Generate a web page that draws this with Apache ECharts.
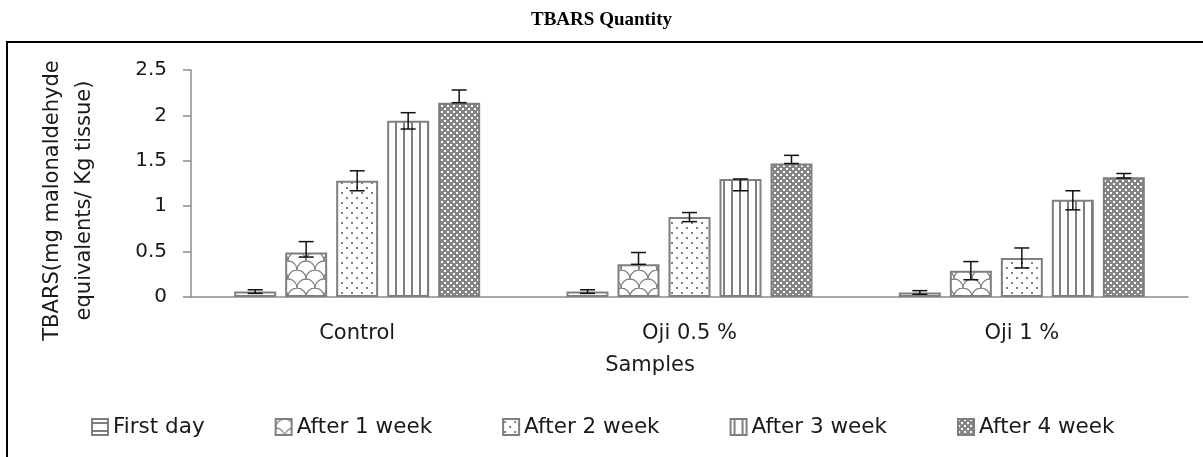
<!DOCTYPE html>
<html>
<head>
<meta charset="utf-8">
<title>TBARS Quantity</title>
<script src="https://cdn.jsdelivr.net/npm/echarts@6/dist/echarts.min.js"></script>
<style>html,body{margin:0;padding:0;background:#fff}#main{width:1203px;height:457px}</style>
</head>
<body>
<div id="main"></div>
<script>
// data
const categories = ['Control', 'Oji 0.5 %', 'Oji 1 %'];
const seriesNames = ['First day', 'After 1 week', 'After 2 week', 'After 3 week', 'After 4 week'];
const yTicks = [0, 0.5, 1, 1.5, 2, 2.5];

const firstDay = [0.06, 0.06, 0.05];
const week1 = [0.49, 0.36, 0.29];
const week2 = [1.28, 0.88, 0.43];
const week3 = [1.94, 1.30, 1.07];
const week4 = [2.14, 1.47, 1.32];

// error bar ends (low / high), one row per series
const errLow = [
  [0.04, 0.04, 0.03],
  [0.44, 0.36, 0.19],
  [1.17, 0.83, 0.32],
  [1.85, 1.17, 0.96],
  [2.14, 1.47, 1.31]
];
const errHigh = [
  [0.08, 0.08, 0.07],
  [0.61, 0.49, 0.39],
  [1.39, 0.93, 0.54],
  [2.03, 1.30, 1.17],
  [2.28, 1.56, 1.36]
];

const values = [firstDay, week1, week2, week3, week4];

const BAR_W = 42, BAR_GAP = 9, CAP_W = 15;
const GREY = '#7f7f7f';
const FONT = 'DejaVu Sans';

function pattern(w, h, draw) {
  const c = document.createElement('canvas');
  c.width = w; c.height = h;
  const ctx = c.getContext('2d');
  ctx.fillStyle = '#fff';
  ctx.fillRect(0, 0, w, h);
  draw(ctx);
  return {image: c, repeat: 'repeat'};
}

const fills = [
  // horizontal line
  pattern(8, 8, function(ctx) { ctx.fillStyle = GREY; ctx.fillRect(0, 3, 8, 2); }),
  // fish scales
  pattern(18, 18, function(ctx) {
    ctx.strokeStyle = GREY; ctx.lineWidth = 1.3;
    ctx.beginPath(); ctx.arc(9, 9, 9, Math.PI, 2 * Math.PI); ctx.stroke();
    ctx.beginPath(); ctx.arc(0, 18, 9, 1.5 * Math.PI, 2 * Math.PI); ctx.stroke();
    ctx.beginPath(); ctx.arc(18, 18, 9, Math.PI, 1.5 * Math.PI); ctx.stroke();
  }),
  // sparse dots
  pattern(10, 10, function(ctx) {
    ctx.fillStyle = GREY;
    ctx.fillRect(1, 2, 2, 2);
    ctx.fillRect(6, 7, 2, 2);
  }),
  // vertical stripes
  pattern(8, 4, function(ctx) { ctx.fillStyle = GREY; ctx.fillRect(3, 0, 2, 4); }),
  // dense check
  pattern(6, 6, function(ctx) {
    ctx.fillStyle = '#858585'; ctx.fillRect(0, 0, 6, 6);
    ctx.fillStyle = '#fff';
    ctx.fillRect(0, 0, 2, 2);
    ctx.fillRect(3, 3, 2, 2);
  })
];

const barSeries = seriesNames.map(function(name, k) {
  return {
    name: name,
    type: 'bar',
    data: values[k],
    barWidth: BAR_W,
    barGap: (BAR_GAP / BAR_W * 100) + '%',
    itemStyle: {color: fills[k], borderColor: GREY, borderWidth: 2},
    emphasis: {disabled: true}
  };
});

const errData = [];
seriesNames.forEach(function(name, k) {
  categories.forEach(function(c, i) {
    errData.push([i, errLow[k][i], errHigh[k][i], k]);
  });
});

const errSeries = {
  name: 'error',
  type: 'custom',
  z: 10,
  data: errData,
  encode: {x: 0, y: [1, 2]},
  renderItem: function(params, api) {
    const k = api.value(3);
    const x = api.coord([api.value(0), 0])[0] + (k - 2) * (BAR_W + BAR_GAP);
    const lo = api.coord([api.value(0), api.value(1)])[1];
    const hi = api.coord([api.value(0), api.value(2)])[1];
    const st = {stroke: '#111', lineWidth: 1.5};
    const h = CAP_W / 2;
    return {type: 'group', children: [
      {type: 'line', shape: {x1: x, y1: lo, x2: x, y2: hi}, style: st},
      {type: 'line', shape: {x1: x - h, y1: hi, x2: x + h, y2: hi}, style: st},
      {type: 'line', shape: {x1: x - h, y1: lo, x2: x + h, y2: lo}, style: st}
    ]};
  }
};

const chart = echarts.init(document.getElementById('main'));
chart.setOption({
  animation: false,
  backgroundColor: '#fff',
  title: {
    text: 'TBARS Quantity',
    left: 'center',
    top: 6,
    textStyle: {fontFamily: 'Liberation Serif', fontWeight: 'bold', fontSize: 19, color: '#000'}
  },
  graphic: [{
    type: 'rect',
    shape: {x: 7, y: 42, width: 1250, height: 500},
    style: {fill: 'none', stroke: '#000', lineWidth: 2},
    silent: true
  }],
  legend: {
    data: seriesNames,
    left: 91,
    top: 416,
    padding: 0,
    itemGap: 70,
    itemWidth: 16,
    itemHeight: 16,
    icon: 'rect',
    textStyle: {fontFamily: FONT, fontSize: 21.5, color: '#1a1a1a'}
  },
  grid: {left: 191, right: 15, top: 70, bottom: 160},
  xAxis: {
    type: 'category',
    data: categories,
    name: 'Samples',
    nameLocation: 'middle',
    nameGap: 58,
    nameTextStyle: {fontFamily: FONT, fontSize: 21, color: '#1a1a1a', padding: [0, 79, 0, 0]},
    axisLine: {lineStyle: {color: '#8c8c8c', width: 1.5}},
    axisTick: {length: 9, lineStyle: {color: '#8c8c8c', width: 1.5}},
    axisLabel: {fontFamily: FONT, fontSize: 21, color: '#1a1a1a', margin: 26}
  },
  yAxis: {
    type: 'value',
    min: yTicks[0],
    max: yTicks[yTicks.length - 1],
    interval: yTicks[1] - yTicks[0],
    name: 'TBARS(mg malonaldehyde\nequivalents/ Kg tissue)',
    nameLocation: 'middle',
    nameRotate: 90,
    nameGap: 90,
    nameTextStyle: {fontFamily: FONT, fontSize: 21, lineHeight: 32, color: '#1a1a1a', padding: [0, 34, 0, 0]},
    axisLine: {show: true, lineStyle: {color: '#8c8c8c', width: 1.5}},
    axisTick: {show: true, length: 8, lineStyle: {color: '#8c8c8c', width: 1.5}},
    splitLine: {show: false},
    axisLabel: {fontFamily: FONT, fontSize: 20, color: '#1a1a1a', margin: 24}
  },
  series: barSeries.concat([errSeries])
});
</script>
</body>
</html>
